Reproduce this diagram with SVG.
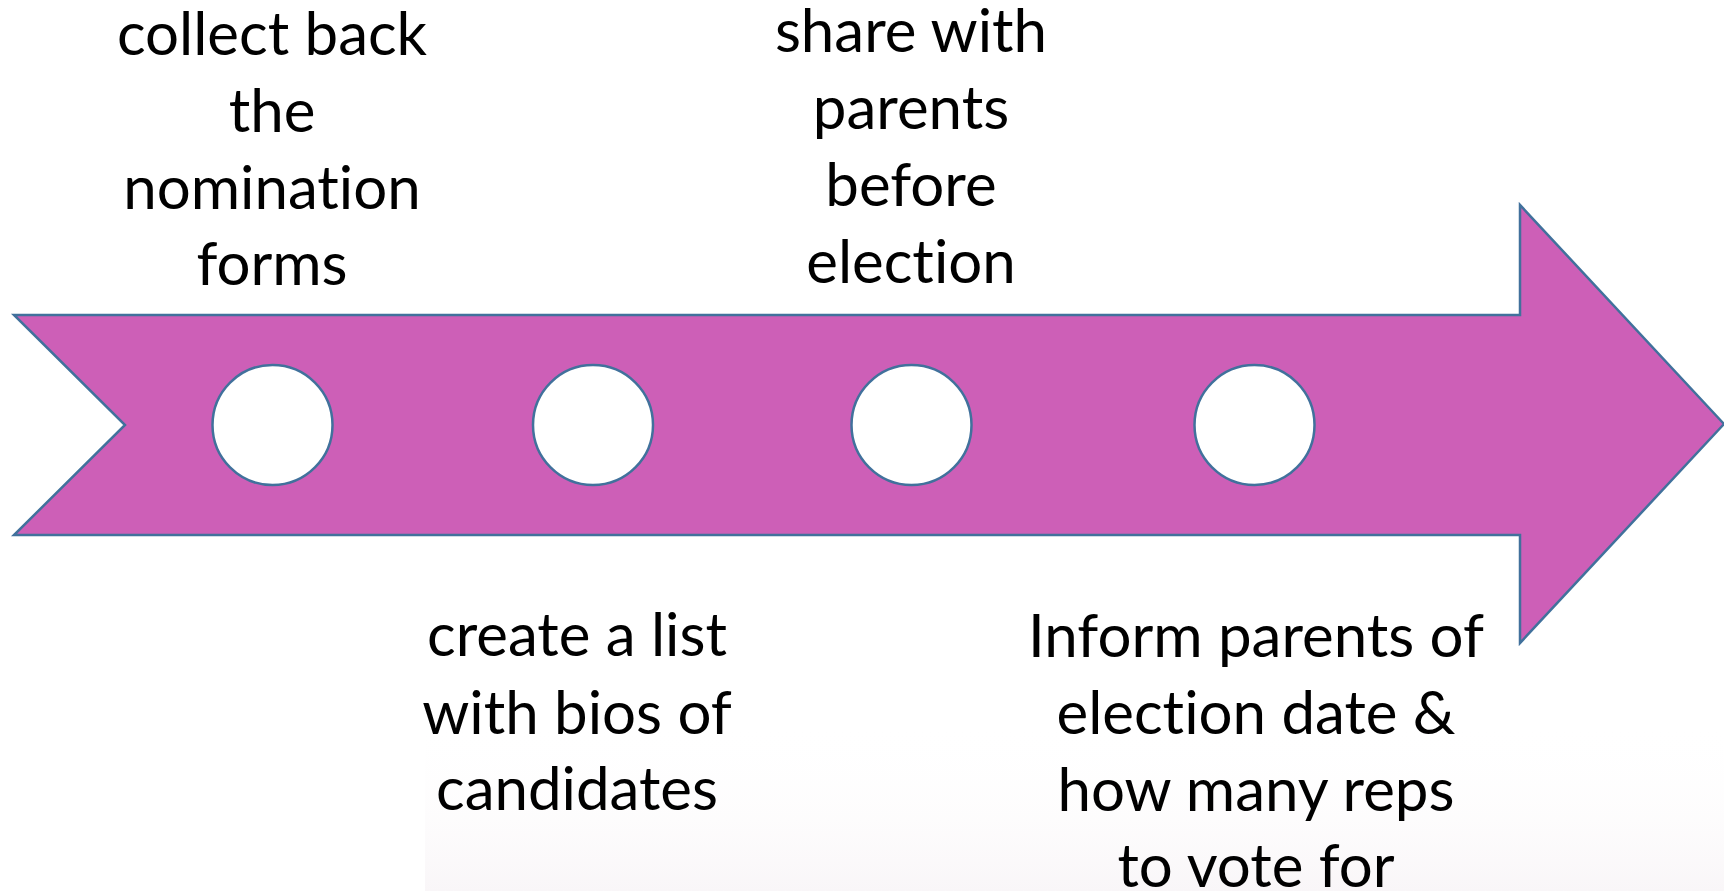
<svg xmlns="http://www.w3.org/2000/svg" width="1724" height="891" viewBox="0 0 1724 891">
<defs>
<linearGradient id="bg" x1="0" y1="0" x2="0" y2="1">
<stop offset="0" stop-color="#FFFFFF" stop-opacity="0"/>
<stop offset="1" stop-color="#F9F6F8"/>
</linearGradient>
<style>
.lbl{font-family:Lato,"Open Sans","Liberation Sans",sans-serif;font-size:60px;fill:#000;text-anchor:middle;font-variant-ligatures:none;font-feature-settings:"liga" 0,"clig" 0}
.dot{fill:#FFFFFF;stroke:#41719C;stroke-width:2.5}
.band{fill:#CD5FB7;stroke:#41719C;stroke-width:2.5;stroke-linejoin:miter}
</style>
</defs>
<rect x="0" y="0" width="1724" height="891" fill="#FFFFFF"/>
<rect x="425" y="720" width="1299" height="171" fill="url(#bg)"/>
<g id="arrow">
<polygon class="band" points="14,315 1520,315 1520,205 1724,424 1520,643 1520,535 14,535 125,425"/>
</g>
<g id="connectors"></g>
<g id="step1">
<circle class="dot" cx="272.5" cy="425" r="60"/>
<text class="lbl" x="272" y="55">collect back</text>
<text class="lbl" x="272" y="132">the</text>
<text class="lbl" x="272" y="209">nomination</text>
<text class="lbl" x="272" y="285">forms</text>
</g>
<g id="step2">
<circle class="dot" cx="593" cy="425" r="60"/>
<text class="lbl" x="577" y="656">create a list</text>
<text class="lbl" x="577" y="734">with bios of</text>
<text class="lbl" x="577" y="810">candidates</text>
</g>
<g id="step3">
<circle class="dot" cx="911.5" cy="425" r="60"/>
<text class="lbl" x="911" y="52">share with</text>
<text class="lbl" x="911" y="129">parents</text>
<text class="lbl" x="911" y="206">before</text>
<text class="lbl" x="911" y="283">election</text>
</g>
<g id="step4">
<circle class="dot" cx="1254.5" cy="425" r="60"/>
<text class="lbl" x="1256" y="657">Inform parents of</text>
<text class="lbl" x="1256" y="734">election date &amp;</text>
<text class="lbl" x="1256" y="811">how many reps</text>
<text class="lbl" x="1256" y="887">to vote for</text>
</g>
</svg>
